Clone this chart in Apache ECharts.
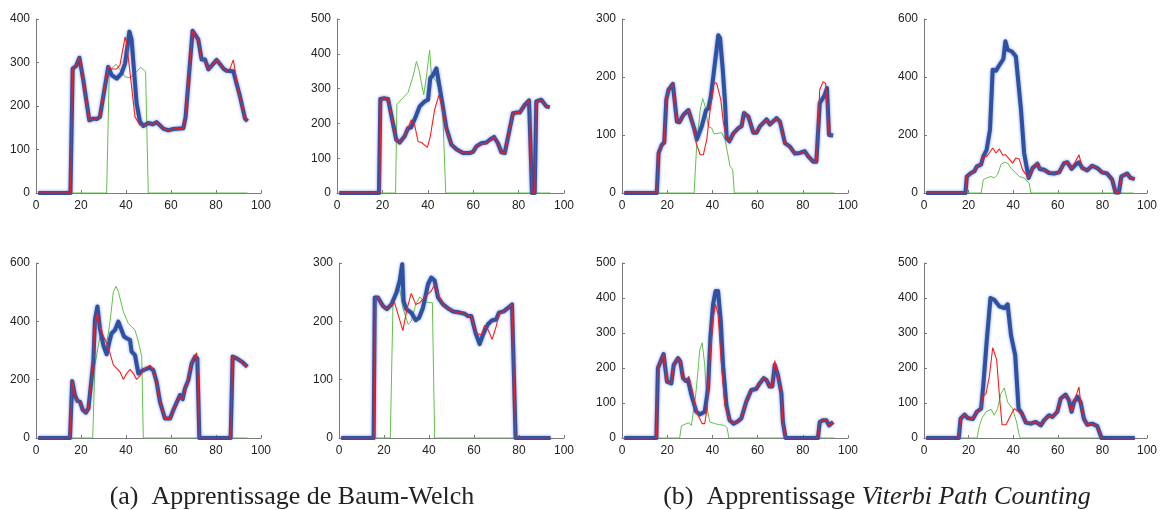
<!DOCTYPE html>
<html>
<head>
<meta charset="utf-8">
<script src="https://cdn.jsdelivr.net/npm/echarts@6/dist/echarts.min.js"></script>
<style>html,body{margin:0;padding:0;background:#fff}#c{width:1160px;height:510px}</style>
</head>
<body>
<div id="c"></div>
<script>
// ---- data: [x, y] breakpoints ----
const xTicks = [0, 20, 40, 60, 80, 100];
const yMax = [400, 500, 300, 600, 600, 300, 500, 500];
const yStep = [100, 100, 100, 200, 200, 100, 100, 100];

const B1 = [[1,0],[15.3,0],[16.3,286],[17.8,292],[19.3,311],[21,260],[23.7,167],[25.5,171],[27,170],[28.4,175],[32.1,290],[33.6,271],[35.9,263],[38,275],[39.6,298],[41.5,371],[42.5,352],[44.7,206],[46.2,164],[47.7,154],[49.9,161],[52,158],[53.6,163],[56.6,148],[58.8,144],[61,147],[65.5,149],[66.5,175],[69.6,373],[72.1,353],[73.6,307],[75.1,307],[76.6,284],[80.3,306],[83.3,286],[84.7,281],[87.7,280],[90.7,221],[92.9,171],[94,165]];
const R1 = [[1,0],[15.3,0],[16.3,286],[17.8,292],[19.3,311],[21,260],[23.7,167],[25.5,171],[27,170],[28.4,175],[32.1,290],[33.6,285],[35.9,285],[37.3,294],[39.6,359],[40.3,344],[42.5,244],[44,175],[46.2,156],[47.7,154],[49.9,161],[52,158],[53.6,163],[56.6,148],[58.8,144],[61,147],[65.5,149],[66.5,175],[69.6,373],[72.1,353],[73.6,307],[75.1,307],[76.6,284],[80.3,306],[83.3,286],[84.7,281],[86.2,286],[87.7,306],[88.4,302],[89.9,236],[92.9,171],[94,165]];
const G1 = [[1,0],[31.4,0],[32.6,290],[33.6,286],[35.6,296],[37.3,284],[39.6,267],[41.8,265],[44,275],[46.5,289],[48.7,279],[49.9,0],[94,0]];

const B2 = [[1,0],[18.5,0],[19.1,270],[21,272],[22.5,270],[26.1,153],[27.6,145],[29.8,163],[31.3,186],[32.7,189],[34.7,220],[36.4,249],[38.6,263],[40.1,268],[41.1,330],[42.3,339],[43.8,358],[44.5,356],[46.4,258],[48.2,186],[50.4,139],[52.6,126],[55.5,115],[58.4,115],[59.9,118],[61.4,134],[63.6,143],[65.8,145],[67.3,153],[69.2,161],[70.9,143],[72.4,117],[73.9,115],[77.5,229],[79,231],[80.5,231],[82.7,253],[84.6,266],[85.2,262],[85.9,0],[87.1,0],[87.8,263],[90,268],[92.2,249],[93.7,246]];
const R2 = [[1,0],[18.8,0],[19.4,270],[21,272],[22.5,270],[26.1,153],[27.6,145],[29.8,163],[32.7,210],[34.2,196],[35.7,148],[37.2,145],[39.8,131],[41.1,163],[43,239],[44.9,282],[46.7,239],[48.2,182],[50.4,139],[52.6,126],[55.5,115],[58.4,115],[59.9,118],[61.4,134],[63.6,143],[64.5,140],[65.8,145],[67.3,150],[69.2,161],[70.9,143],[72.4,117],[73.9,115],[77.5,229],[79,231],[80.5,231],[82.7,253],[84.6,266],[85.2,262],[85.9,0],[87.1,0],[87.8,263],[90,268],[92.2,249],[93.7,246]];
const G2 = [[1,0],[25.8,0],[26.4,256],[28.3,268],[31.3,289],[33.5,335],[35,378],[36.1,354],[36.8,354],[38.2,282],[39.4,335],[40.8,411],[41.6,339],[43.8,320],[45.2,296],[46.4,263],[47.9,0],[94,0]];

const B3 = [[1,0],[15.4,0],[16.2,69],[17.6,83],[18.7,87],[19.6,161],[20.6,178],[22.5,188],[24.3,123],[25.4,122],[27.2,135],[29.4,143],[30.2,141],[31.9,112],[33.1,92],[35.3,115],[37.2,143],[38.2,146],[39.3,166],[40.4,201],[42.6,272],[43.4,267],[44.6,212],[45.6,155],[46.3,95],[47.5,89],[49.3,103],[51.5,112],[52.9,115],[54,138],[55.9,132],[58.1,104],[59.6,104],[61,115],[64,127],[65.4,118],[68.4,129],[69.9,123],[72.1,86],[74.3,80],[76.5,68],[78.7,69],[80.9,72],[82.4,63],[84.6,54],[86,54],[87.5,155],[89.7,169],[90.7,181],[91.6,100],[93.4,99]];
const R3 = [[1,0],[15.4,0],[16.2,69],[17.6,83],[18.7,87],[19.6,161],[20.6,178],[22.5,188],[24.3,123],[25.4,122],[27.2,135],[29.4,143],[30.2,141],[31.9,112],[32.8,86],[34.6,66],[36,66],[37.5,92],[39,143],[40.7,190],[41.9,189],[43.7,161],[44.9,120],[46.3,95],[47.5,89],[49.3,103],[51.5,112],[52.9,115],[54,138],[55.9,132],[58.1,104],[59.6,104],[61,115],[64,127],[65.4,118],[68.4,129],[69.9,123],[72.1,86],[74.3,80],[76.5,68],[78.7,69],[80.9,72],[82.4,63],[84.6,54],[86,54],[87.5,178],[89,192],[90.1,189],[91.6,100],[93.4,99]];
const G3 = [[1,0],[31.9,0],[33.1,86],[34.6,143],[35.7,163],[36.8,149],[38.2,114],[39.7,112],[40.7,102],[42.6,103],[44.1,104],[45.6,92],[47.8,46],[49,40],[49.7,0],[94,0]];

const B4 = [[1,0],[18.6,0],[19.2,57],[21.1,69],[22.6,75],[23.7,92],[25.6,98],[26.6,126],[28.1,149],[29.6,218],[30.8,425],[32.3,422],[33.5,437],[35.6,462],[36.5,523],[37.5,494],[39.4,488],[41.2,471],[43.5,287],[44.9,138],[46.9,52],[48.7,86],[50.9,101],[51.9,83],[53.9,80],[56.1,69],[58.3,67],[60.6,71],[62.8,103],[64.3,106],[66.2,83],[68,98],[69.5,106],[71,86],[73.2,78],[75.4,94],[77.7,86],[79.9,71],[82.1,67],[84.4,46],[85.9,2],[87.4,2],[88.5,57],[91.1,67],[92.6,52],[94.5,48]];
const R4 = [[1,0],[18.6,0],[19.2,57],[21.1,69],[22.6,75],[23.7,92],[25.6,98],[26.6,126],[28.1,126],[29.3,138],[30.8,155],[32.3,138],[33.8,152],[35.3,130],[36.5,132],[37.5,124],[39.7,103],[41.2,121],[42.7,117],[44.2,80],[46.9,52],[48.7,86],[50.9,101],[51.9,83],[53.9,80],[56.1,69],[58.3,67],[60.6,71],[62.8,103],[64.3,106],[66.2,83],[68,110],[69.5,132],[71,86],[73.2,78],[75.4,94],[77.7,86],[79.9,71],[82.1,67],[84.4,46],[85.9,2],[87.4,2],[88.5,57],[91.1,67],[92.6,52],[94.5,48]];
const G4 = [[1,0],[25.6,0],[26.6,46],[28.1,52],[30.1,57],[31.5,52],[33,63],[34.5,98],[36,106],[37.5,103],[39,86],[41.2,69],[42.7,57],[44.9,52],[47.2,34],[47.9,0],[94,0]];

const B5 = [[1,0],[15.1,0],[16.1,195],[17.3,147],[18.4,127],[19.6,124],[20.7,97],[22.2,87],[23.3,101],[25.5,262],[26.2,405],[27.3,451],[28.4,376],[29.9,319],[31.4,287],[32.6,330],[33.6,359],[35.1,370],[36.6,399],[37.3,399],[39.1,348],[40.3,342],[41.8,336],[42.5,296],[44,284],[45.5,221],[46.2,227],[47.7,233],[50.4,241],[52.1,233],[53.6,193],[55.1,124],[57.3,67],[59.6,67],[61,95],[63.3,135],[64,147],[65.2,133],[66.2,170],[67.7,198],[69.2,256],[70.7,279],[71.7,273],[72.6,0],[86.5,0],[87.4,279],[89.2,273],[91.4,262],[93.9,244]];
const R5 = [[1,0],[15.1,0],[16.1,195],[17.3,147],[18.4,127],[19.6,124],[20.7,97],[22.2,87],[23.3,101],[25.5,262],[26.2,390],[27.3,428],[28.4,376],[31.4,325],[32.9,290],[34.4,250],[35.9,239],[37.3,227],[38.8,201],[40.3,221],[41.8,235],[43.3,221],[44.7,201],[46.2,213],[47.7,233],[50.7,250],[52.1,233],[53.6,193],[55.1,124],[57.3,67],[59.6,67],[61,95],[63.3,135],[64,147],[65.2,133],[66.2,170],[67.7,198],[69.2,260],[71.4,292],[72.2,200],[72.6,0],[86.5,0],[87.4,279],[89.2,273],[91.4,262],[93.9,244]];
const G5 = [[1,0],[25.2,0],[26.2,250],[28.4,348],[30.2,336],[31.7,336],[32.9,399],[34.4,502],[35.6,520],[36.6,502],[38.8,434],[41,393],[42.5,382],[44,370],[45.5,330],[47,279],[47.7,0],[94,0]];

const B6 = [[1,0],[15.4,0],[15.9,241],[17.3,241],[19.6,226],[21.3,221],[23.3,229],[25.5,249],[27,270],[28.1,298],[28.7,235],[29.9,221],[32.1,215],[34.1,202],[35.6,206],[37.3,223],[39.6,264],[41,275],[42.5,270],[44,241],[46.2,229],[48.9,221],[50.7,217],[53.6,215],[55.9,213],[57.3,209],[58.8,209],[60.7,180],[62.5,161],[64,177],[66.2,195],[68.1,202],[69.9,203],[71.1,215],[73.2,217],[75.1,223],[76.9,229],[77.6,229],[78.5,0],[94,0]];
const R6 = [[1,0],[15.6,0],[16.2,241],[17.3,241],[19.6,226],[21.3,221],[23.3,229],[24.7,232],[26.7,206],[28.4,184],[30.2,221],[32.1,248],[34.1,229],[35.9,232],[38.8,244],[41,252],[42.5,263],[44,247],[46.2,229],[48.9,221],[50.7,217],[53.6,215],[55.9,213],[57.3,209],[58.8,209],[61,179],[63.3,177],[64.7,193],[66.2,186],[68.1,169],[69.9,192],[71.1,213],[73.2,217],[75.1,223],[76.9,229],[77.6,229],[78.6,0],[94,0]];
const G6 = [[1,0],[22.8,0],[24,232],[26.2,249],[27,255],[28.4,223],[30.7,195],[32.1,200],[34.1,229],[35.9,242],[37.6,235],[39.6,232],[41.5,232],[42.5,0],[94,0]];

const B7 = [[1,0],[15.2,0],[15.9,200],[17.4,224],[18.4,240],[19.9,161],[21.8,156],[22.9,209],[24.8,228],[25.8,219],[27,171],[28.2,163],[29.2,166],[30.7,123],[32.9,75],[34.4,67],[36.6,75],[38.1,142],[39.1,286],[40.3,382],[41.4,420],[42.5,420],[43.7,334],[44.7,209],[46.2,94],[47.6,51],[49.4,41],[51.3,48],[52.8,56],[55,104],[57.2,137],[59.4,140],[60.9,156],[62.7,171],[63.9,166],[65.3,147],[66.5,147],[67.6,209],[69,180],[70.5,128],[71.2,46],[72.4,0],[86.7,0],[87.5,46],[88.9,51],[90.4,51],[91.6,36],[93.4,46]];
const R7 = [[1,0],[15.2,0],[15.9,200],[17.4,224],[18.4,240],[19.9,161],[21.8,156],[22.9,209],[24.8,228],[25.8,219],[27,171],[28.2,163],[29.6,176],[31.4,128],[32.9,75],[35.5,41],[36.6,41],[37.6,84],[39.1,238],[40.3,344],[41.4,382],[42.5,353],[44,209],[45.5,94],[47.6,51],[49.4,41],[51.3,48],[52.8,56],[55,104],[57.2,137],[59.4,140],[60.9,156],[62.7,171],[63.9,166],[65.3,147],[66.5,147],[67.6,221],[69,180],[70.5,128],[71.2,46],[72.4,0],[86.7,0],[87.5,46],[88.9,51],[90.4,51],[91.6,36],[93.4,46]];
const G7 = [[1,0],[25.5,0],[26.3,35],[28.5,41],[29.6,43],[30.7,36],[32.6,123],[33.6,190],[34.4,252],[35.5,272],[36.6,209],[37.6,89],[38.8,46],[41,41],[43.2,38],[45.4,36],[46.5,29],[47.3,0],[94,0]];

const B8 = [[1,0],[15.6,0],[16.4,55],[18.2,67],[19.6,57],[21.9,54],[23.7,75],[25.6,84],[26.6,151],[28.1,275],[29.8,400],[31.5,395],[33.8,376],[36,371],[37.5,382],[39,294],[40.9,237],[42.4,84],[43.9,70],[45.7,44],[47.9,41],[50.1,46],[52.4,36],[53.9,51],[56.1,65],[57.6,60],[59.8,75],[61.3,113],[63.5,124],[65,108],[66.2,75],[67.3,103],[68.8,118],[70.2,103],[71.7,55],[73.2,38],[75.4,41],[77.7,34],[79.6,0],[94.5,0]];
const R8 = [[1,0],[15.6,0],[16.4,55],[18.2,67],[19.6,57],[21.9,54],[23.7,75],[25.6,84],[26.3,118],[27.8,127],[29.3,175],[30.8,258],[32.6,223],[33.8,122],[35,38],[36.8,38],[38.5,60],[40.5,84],[42.4,75],[43.9,70],[45.7,44],[47.9,41],[50.1,46],[52.4,36],[53.9,51],[56.1,65],[57.6,60],[59.8,75],[61.3,113],[63.5,124],[65,108],[66.2,75],[67.3,103],[69.5,146],[70.2,103],[71.7,55],[73.2,38],[75.4,41],[77.7,34],[79.6,0],[94.5,0]];
const G8 = [[1,0],[23.8,0],[24.9,36],[26,57],[27.8,75],[30.1,82],[31.5,65],[33,84],[34.5,127],[36,143],[37.5,103],[39.7,84],[41.5,46],[42.7,8],[43.2,0],[94,0]];

const captionA = '(a)  Apprentissage de Baum-Welch';
const captionBPlain = '(b)  Apprentissage ';
const captionBItalic = 'Viterbi Path Counting';

// ---- layout ----
const panels = [
  {B:B1,R:R1,G:G1}, {B:B2,R:R2,G:G2}, {B:B3,R:R3,G:G3}, {B:B4,R:R4,G:G4},
  {B:B5,R:R5,G:G5}, {B:B6,R:R6,G:G6}, {B:B7,R:R7,G:G7}, {B:B8,R:R8,G:G8}
];
const boxes = [
  [36,19,225,174],[337,19,227,174],[622,19,226,174],[924,19,224,174],
  [36,263,225,175],[339,263,225,175],[622,263,226,175],[924,263,224,175]
];
const axisCol = '#7a7a7a';
const labelStyle = {color:'#222', fontSize:12, fontFamily:'"Liberation Sans", Arial, sans-serif'};

const grid = [], xAxis = [], yAxis = [], series = [];
panels.forEach((p, i) => {
  const b = boxes[i];
  grid.push({left:b[0], top:b[1], width:b[2], height:b[3], containLabel:false});
  xAxis.push({type:'value', gridIndex:i, min:xTicks[0], max:xTicks[xTicks.length-1], interval:20,
    axisLine:{show:true, lineStyle:{color:axisCol, width:1}},
    axisTick:{show:true, inside:true, length:3, lineStyle:{color:axisCol}},
    axisLabel:{...labelStyle, margin:7},
    splitLine:{show:false}});
  yAxis.push({type:'value', gridIndex:i, min:0, max:yMax[i], interval:yStep[i],
    axisLine:{show:true, lineStyle:{color:axisCol, width:1}},
    axisTick:{show:true, inside:true, length:3, lineStyle:{color:axisCol}},
    axisLabel:{...labelStyle, margin:6},
    splitLine:{show:false}});
  series.push({type:'line', xAxisIndex:i, yAxisIndex:i, data:p.G, showSymbol:false, symbol:'none',
    lineStyle:{color:'#62c04c', width:1}, z:2, silent:true});
  series.push({type:'line', xAxisIndex:i, yAxisIndex:i, data:p.B, showSymbol:false, symbol:'none',
    lineStyle:{color:'#2f51a3', width:4, shadowColor:'rgba(70,100,185,0.7)', shadowBlur:3, join:'round'}, z:3, silent:true});
  series.push({type:'line', xAxisIndex:i, yAxisIndex:i, data:p.R, showSymbol:false, symbol:'none',
    lineStyle:{color:'#ff1a1a', width:1.1}, z:4, silent:true});
});

const capFont = '"Liberation Serif", "Times New Roman", serif';
const chart = echarts.init(document.getElementById('c'), null, {renderer:'canvas'});
chart.setOption({
  animation:false,
  backgroundColor:'#fff',
  grid, xAxis, yAxis, series,
  graphic:[
    {type:'text', x:292, y:497, style:{text:captionA, align:'center', verticalAlign:'middle',
      fontSize:26, fontFamily:capFont, fill:'#222'}},
    {type:'text', x:877, y:497, style:{text:'{n|' + captionBPlain + '}{i|' + captionBItalic + '}', align:'center', verticalAlign:'middle',
      fontSize:26, fontFamily:capFont, fill:'#222',
      rich:{n:{fontSize:26, fontFamily:capFont, fill:'#222'}, i:{fontSize:26, fontFamily:capFont, fontStyle:'italic', fill:'#222'}}}}
  ]
});
</script>
</body>
</html>
